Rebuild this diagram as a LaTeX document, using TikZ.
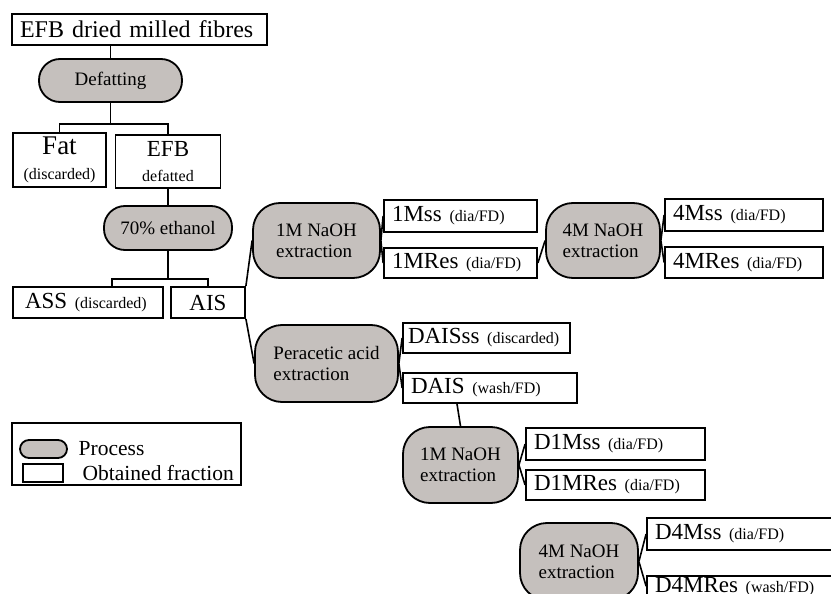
\documentclass[tikz,border=0pt]{standalone}
\usepackage{fontspec}
\setmainfont{Liberation Serif}
\usetikzlibrary{positioning}
\definecolor{procgray}{RGB}{197,192,189}
\newcommand{\fsz}[2]{\fontsize{#1}{#2}\selectfont}
\newcommand{\fracnote}[1]{{\fsz{16}{18}#1}}
\tikzset{
  proc/.style={draw, fill=procgray, rounded corners=27pt, line width=1.8pt,
    inner sep=0pt, align=left, font=\fsz{19}{21}},
  frac/.style={draw, fill=white, line width=1.8pt, inner ysep=0pt,
    inner xsep=8pt, align=left, font=\fsz{23}{25}},
}

\begin{document}
\begin{tikzpicture}[x=1pt, y=-1pt, line width=1.6pt]
                \clip (0,0) rectangle (831,594);

                % starting material and defatting
                \node[frac, text width=239, minimum height=31, font=\fsz{24}{26}] (src) at (139.5,29.5) {EFB dried milled fibres};
                \node[proc, rounded corners=21pt, minimum width=143, minimum height=43] (defat) at (110.5,80.5) {Defatting};
                \node[frac, align=center, text width=77, minimum height=54] (fat) at (59.5,160) {{\fsz{27}{24}Fat}\\\fracnote{(discarded)}};
                \node[frac, align=center, text width=89, minimum height=53] (efbd) at (168,161.5) {EFB\\\fracnote{defatted}};

                % ethanol step
                \node[proc, rounded corners=21pt, minimum width=128, minimum height=44] (eth) at (168,228) {70\% ethanol};
                \node[frac, inner xsep=12pt, text width=126, minimum height=31] (ass) at (88,302.5) {ASS \fracnote{(discarded)}};
                \node[frac, align=center, text width=58, minimum height=31] (ais) at (208,302.5) {AIS};

                % alkali branch
                \node[proc, minimum width=127, minimum height=75] (naoh1) at (316.5,240.5) {1M NaOH\\extraction};
                \node[frac, text width=137, minimum height=32] (m1ss) at (460.5,216) {1Mss \fracnote{(dia/FD)}};
                \node[frac, text width=137, minimum height=30] (m1res) at (460.5,263) {1MRes \fracnote{(dia/FD)}};
                \node[proc, minimum width=114, minimum height=75] (naoh4) at (603,240.5) {4M NaOH\\extraction};
                \node[frac, text width=142, minimum height=32] (m4ss) at (744,215) {4Mss \fracnote{(dia/FD)}};
                \node[frac, text width=142, minimum height=31] (m4res) at (744,262.5) {4MRes \fracnote{(dia/FD)}};

                % peracetic branch
                \node[proc, minimum width=143, minimum height=77] (pera) at (326.5,363.5) {Peracetic acid\\extraction};
                \node[frac, inner xsep=5pt, text width=157, minimum height=30] (daisss) at (486.5,338) {\mbox{DAISss \fracnote{(discarded)}}};
                \node[frac, text width=158, minimum height=30] (dais) at (490,388) {DAIS \fracnote{(wash/FD)}};
                \node[proc, minimum width=115, minimum height=76] (dnaoh1) at (460.5,465) {1M NaOH\\extraction};
                \node[frac, text width=163, minimum height=32] (d1ss) at (615.5,444) {D1Mss \fracnote{(dia/FD)}};
                \node[frac, text width=163, minimum height=30] (d1res) at (615.5,485) {D1MRes \fracnote{(dia/FD)}};
                \node[proc, minimum width=118, minimum height=77] (dnaoh4) at (579,561.5) {4M NaOH\\extraction};
                \node[frac, text width=177, minimum height=32] (d4ss) at (743.5,534) {D4Mss \fracnote{(dia/FD)}};
                \node[frac, text width=177, minimum height=0pt, inner ysep=1pt, anchor=north] (d4res) at (743.5,575) {D4MRes \fracnote{(wash/FD)}};

                % connectors
                \draw (defat.north) -- (defat.north |- src.south);
                \draw (defat.south) -- ++(0,21) coordinate (j1);
                \draw (fat.north) |- (j1) -| (efbd.north);
                \draw (efbd.south) -- (eth.north);
                \draw (eth.south) -- ++(0,28) coordinate (j2);
                \draw ([xshift=24pt]ass.north) |- (j2) -| (ais.north);
                \draw (ais.north east) -- (naoh1.west);
                \draw (ais.south east) -- (pera.west);
                \draw (naoh1.east) -- (m1ss.west);
                \draw (naoh1.east) -- (m1res.west);
                \draw (m1res.east) -- (naoh4.west);
                \draw (naoh4.east) -- (m4ss.west);
                \draw (naoh4.east) -- (m4res.west);
                \draw (pera.east) -- (daisss.west);
                \draw (pera.east) -- (dais.west);
                \draw ([xshift=-33pt]dais.south) -- (dnaoh1.north);
                \draw (dnaoh1.east) -- (d1ss.west);
                \draw (dnaoh1.east) -- (d1res.west);
                \draw (dnaoh4.east) -- (d4ss.west);
                \draw (dnaoh4.east) -- (d4res.west);

                % legend
                \draw (12,423) rectangle (241,485);
                \node[proc, rounded corners=9pt, minimum width=47, minimum height=18] (legproc) at (43.5,449) {};
                \node[frac, minimum width=40, minimum height=18] (legfrac) at (43,473) {};
                \node[right=10pt of legproc, inner sep=0pt, font=\fsz{21.5}{23}] (legproctxt) {Process};
                \node[right=18pt of legfrac, inner sep=0pt, font=\fsz{21.5}{23}] (legfractxt) {Obtained fraction};
            \end{tikzpicture}
\end{document}
